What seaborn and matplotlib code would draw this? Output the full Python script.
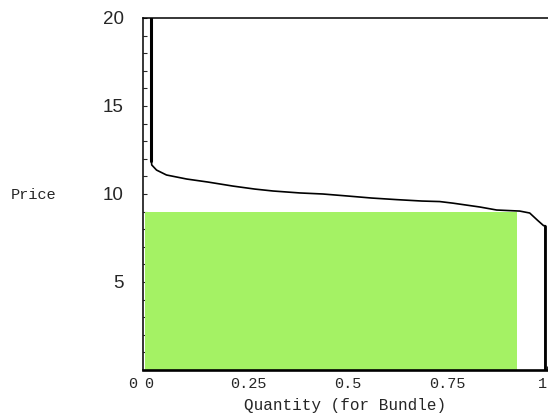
import numpy as np
import matplotlib
matplotlib.use("Agg")
import matplotlib.pyplot as plt
import matplotlib.transforms as mtransforms
import seaborn as sns
import pandas as pd

# demand curve for the bundle (quantity, price)
quantity = [0.006, 0.006, 0.007, 0.019, 0.044, 0.095, 0.148, 0.211, 0.266, 0.312,
            0.379, 0.437, 0.497, 0.560, 0.623, 0.686, 0.731, 0.764, 0.832, 0.874,
            0.932, 0.957, 0.977, 0.992, 0.996, 0.996]
price = [20.0, 11.9, 11.65, 11.36, 11.08, 10.85, 10.68, 10.45, 10.28, 10.17,
         10.06, 10.0, 9.89, 9.77, 9.68, 9.6, 9.57, 9.48, 9.26, 9.09,
         9.03, 8.92, 8.5, 8.2, 8.2, 0.0]

# revenue rectangle for the chosen bundle price
bundle_qty = 0.935
bundle_price = 9.0

x_ticks = [0, 0.25, 0.5, 0.75, 1]
x_tick_labels = ["0", "0.25", "0.5", "0.75", "1"]
y_ticks = [5, 10, 15, 20]

df = pd.DataFrame({"quantity": quantity, "price": price})

sns.set_style("white")
plt.rcParams["font.family"] = ["Liberation Sans", "DejaVu Sans"]

fig = plt.figure(figsize=(5.48, 4.17), dpi=100)
ax = fig.add_axes([143 / 548, 47 / 417, 405 / 548, 352 / 417])

ax.bar(-0.01, bundle_price, width=bundle_qty, align="edge", color="#a4f264",
       edgecolor="none", zorder=1)

sns.lineplot(data=df, x="quantity", y="price", sort=False, estimator=None,
             color="black", lw=1.2, ax=ax, zorder=3)
# the vertical pieces are drawn heavier
sns.lineplot(x=quantity[:2], y=price[:2], sort=False, estimator=None,
             color="black", lw=2.2, ax=ax, zorder=3)
sns.lineplot(x=quantity[-2:], y=price[-2:], sort=False, estimator=None,
             color="black", lw=2.0, ax=ax, zorder=3)

ax.set_xlim(-0.015, 1.003)
ax.set_ylim(0, 20)

for side in ["top", "left", "bottom"]:
    ax.spines[side].set_visible(True)
    ax.spines[side].set_color("black")
ax.spines["right"].set_visible(False)
ax.spines["top"].set_linewidth(1.1)
ax.spines["left"].set_linewidth(1.1)
ax.spines["bottom"].set_linewidth(1.9)

ax.set_xticks(x_ticks)
ax.set_xticklabels(x_tick_labels, family="Liberation Mono", fontsize=11)
ax.set_yticks(y_ticks)
ax.set_yticklabels([str(v) for v in y_ticks], fontsize=13.5)
ax.set_yticks(np.arange(1, 20), minor=True)
ax.tick_params(axis="x", direction="in", length=3, width=0.8, pad=5,
               bottom=True, top=False)
ax.tick_params(axis="y", which="both", direction="in", length=3, width=0.8,
               pad=14, left=True, right=False)

# pull the last x label in so it sits inside the picture
last = ax.get_xticklabels()[-1]
last.set_transform(last.get_transform() +
                   mtransforms.ScaledTranslation(-3 / 72, 0, fig.dpi_scale_trans))

# stray zero left of the origin
ax.annotate("0", xy=(-0.04, 0), xycoords=("data", "axes fraction"),
            xytext=(0, -5), textcoords="offset points", ha="center", va="top",
            family="Liberation Mono", fontsize=11)

ax.set_xlabel("Quantity (for Bundle)", family="Liberation Mono", fontsize=11.5)
ax.xaxis.set_label_coords(0.5, -0.1)
ax.xaxis.label.set_va("center")
ax.set_ylabel("Price", family="Liberation Mono", fontsize=11, rotation=0)
ax.yaxis.set_label_coords(-0.27, 0.497)
ax.yaxis.label.set_va("center")
ax.yaxis.label.set_ha("center")

ax.grid(False)
fig.savefig("out.png", dpi=100)
